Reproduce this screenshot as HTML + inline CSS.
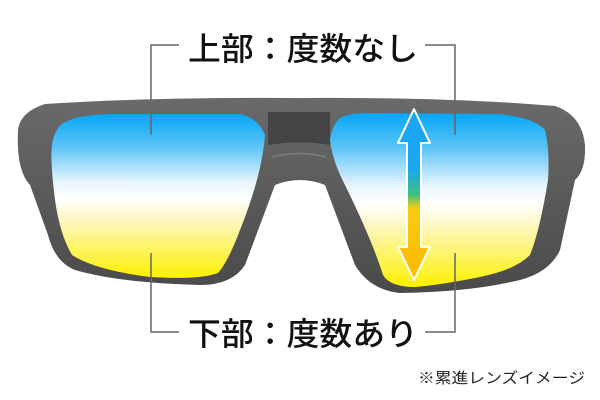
<!DOCTYPE html>
<html><head><meta charset="utf-8"><style>
html,body{margin:0;padding:0;background:#fff}
svg{display:block}
text{font-family:"Liberation Sans","Noto Sans CJK JP",sans-serif}
</style></head><body>
<svg width="600" height="400" viewBox="0 0 600 400" xmlns="http://www.w3.org/2000/svg">
<defs>
<linearGradient id="lens" x1="0" y1="0" x2="0" y2="1">
<stop offset="0" stop-color="#06a6f5"/>
<stop offset="0.2" stop-color="#5cc4f7"/>
<stop offset="0.42" stop-color="#e9f6fd"/>
<stop offset="0.52" stop-color="#ffffff"/>
<stop offset="0.65" stop-color="#fdf7c0"/>
<stop offset="1" stop-color="#fdf000"/>
</linearGradient>
<linearGradient id="arr" x1="0" y1="0" x2="0" y2="1">
<stop offset="0" stop-color="#1aa6f0"/>
<stop offset="0.35" stop-color="#1aa6f0"/>
<stop offset="0.5" stop-color="#3cc080"/>
<stop offset="0.58" stop-color="#f5cc10"/>
<stop offset="1" stop-color="#ffb800"/>
</linearGradient>
<linearGradient id="frame" x1="0" y1="0" x2="0" y2="1">
<stop offset="0" stop-color="#6a6a6a"/>
<stop offset="1" stop-color="#4a4a4a"/>
</linearGradient>
</defs>
<path d="M18,130 Q20,112 45,104 Q150,97 300,98 Q450,97 555,106 Q582,115 585,145 Q586,170 575,180 L560,250 Q550,272 520,280 Q470,292 400,293 Q370,290 355,265 L325,185 Q300,175 275,185 L245,265 Q232,285 200,285 Q120,283 75,270 Q55,262 48,235 L30,185 Q16,170 18,130 Z" fill="url(#frame)"/>
<path d="M62,124 Q75,115 110,114 L240,114 Q258,118 265,135 Q262,175 240,230 Q228,262 218,273 Q200,280 150,277 Q95,270 72,255 Q60,235 55,200 Q50,160 52,145 Q54,130 62,124 Z" fill="url(#lens)"/>
<path d="M340,118 Q348,113 370,113 L500,114 Q535,118 545,130 Q550,150 548,180 Q540,230 530,255 Q515,270 480,277 Q440,285 415,287 Q390,287 383,275 Q372,240 345,185 Q332,160 330,140 Q332,125 340,118 Z" fill="url(#lens)"/>
<path d="M268,112 L330,112 L330,145 Q300,140 268,145 Z" fill="#444"/>
<path d="M272,157 Q300,150 326,157" stroke="#777" stroke-width="2" fill="none"/>
<path d="M414,109 L430,143 L421,143 L421,247 L430,247 L414,280 L398,247 L407,247 L407,143 L398,143 Z" fill="url(#arr)" stroke="#fff" stroke-width="2" stroke-linejoin="round"/>
<g stroke="#666" stroke-width="1.5" fill="none">
<path d="M151,135 V45 H179"/>
<path d="M425,45 H455 V135"/>
<path d="M151,253 V332 H179"/>
<path d="M425,332 H455 V253"/>
</g>
<text x="188" y="60" font-size="32" font-weight="500" fill="#111" textLength="230" lengthAdjust="spacingAndGlyphs">上部：度数なし</text>
<text x="188" y="345" font-size="32" font-weight="500" fill="#111" textLength="230" lengthAdjust="spacingAndGlyphs">下部：度数あり</text>
<text x="418" y="383" font-size="15" fill="#222" textLength="167" lengthAdjust="spacingAndGlyphs">※累進レンズイメージ</text>
</svg>
</body></html>
